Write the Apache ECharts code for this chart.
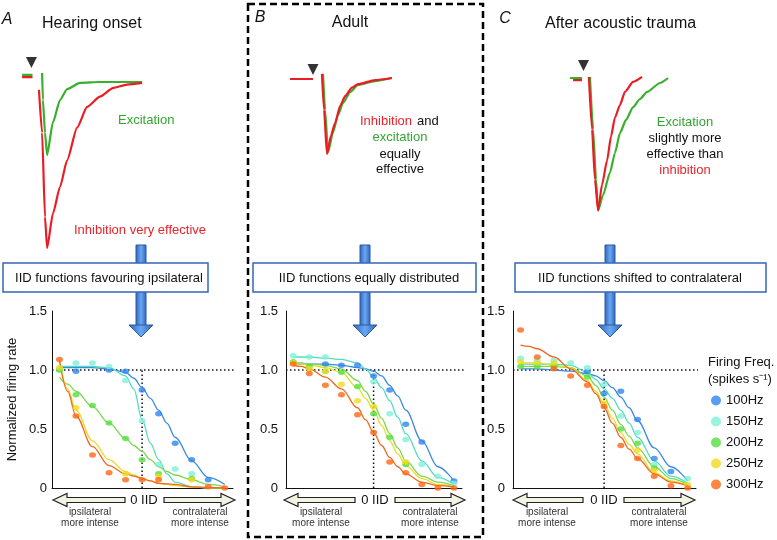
<!DOCTYPE html>
<html><head><meta charset="utf-8">
<script src="https://cdn.jsdelivr.net/npm/echarts@6/dist/echarts.min.js"></script>
<style>html,body{margin:0;padding:0;background:#fff}#c{width:777px;height:540px}</style>
</head><body><div id="c"></div>
<script>
// ---------- data ----------
const freqNames = ['100Hz','150Hz','200Hz','250Hz','300Hz'];
const iidSteps = [-5,-4,-3,-2,-1,0,1,2,3,4,5];
const fitSteps = [-5,-4.5,-4,-3,-2,-1,-0.5,0,0.5,1,1.5,2,3,4,5];
const yTickLabels = ['0','0.5','1.0','1.5'];

// Panel A (hearing onset) measured points
const dotsA100 = [null,0.99,null,1.00,0.99,0.83,0.63,0.38,0.24,0.07,null];
const dotsA150 = [1.00,1.06,1.06,1.03,0.91,0.57,0.20,0.16,0.12,null,null];
const dotsA200 = [1.00,0.79,0.70,0.55,0.42,0.24,0.12,null,0.08,null,null];
const dotsA250 = [1.02,0.68,null,null,0.12,null,0.10,null,0.07,null,null];
const dotsA300 = [1.09,0.61,0.28,0.13,0.07,0.07,0.07,null,null,0.01,0.00];
// Panel A fitted curves
const fitA100 = [1.02,1.02,1.02,1.02,1.01,0.98,0.93,0.85,0.76,0.66,0.55,0.43,0.23,0.09,0.03];
const fitA150 = [1.03,1.03,1.03,1.03,1.02,0.95,0.84,0.58,0.38,0.24,0.12,0.05,0.01,0.00,0.00];
const fitA200 = [0.94,0.88,0.82,0.69,0.55,0.42,0.36,0.31,0.24,0.18,0.14,0.11,0.07,0.03,0.01];
const fitA250 = [1.08,0.84,0.66,0.40,0.24,0.14,0.11,0.08,0.06,0.04,0.03,0.02,0.01,0.00,0.00];
const fitA300 = [1.08,0.82,0.61,0.35,0.19,0.12,0.10,0.08,0.06,0.04,0.035,0.03,0.01,0.005,0.00];

// Panel B (adult)
const dotsB100 = [null,null,1.05,1.04,1.04,0.95,0.83,0.54,0.39,null,0.06];
const dotsB150 = [1.12,1.11,1.11,null,null,0.90,0.63,0.41,0.20,0.10,0.04];
const dotsB200 = [1.07,1.03,0.99,0.98,0.86,0.63,0.43,0.20,null,null,null];
const dotsB250 = [1.06,1.01,0.99,0.88,0.74,0.69,null,0.22,null,null,null];
const dotsB300 = [1.05,0.97,0.87,0.79,0.62,0.47,0.22,0.13,0.03,0.00,0.00];
const fitB100 = [1.05,1.05,1.05,1.05,1.04,1.02,1.01,0.99,0.95,0.87,0.78,0.66,0.40,0.18,0.06];
const fitB150 = [1.11,1.11,1.11,1.10,1.09,1.06,1.01,0.94,0.85,0.74,0.60,0.46,0.23,0.09,0.03];
const fitB200 = [1.06,1.06,1.05,1.04,1.01,0.91,0.82,0.71,0.59,0.46,0.34,0.23,0.10,0.05,0.02];
const fitB250 = [1.05,1.05,1.04,1.02,0.98,0.85,0.76,0.66,0.53,0.40,0.29,0.19,0.08,0.03,0.01];
const fitB300 = [1.04,1.03,1.01,0.94,0.84,0.68,0.58,0.47,0.36,0.26,0.18,0.12,0.05,0.02,0.01];

// Panel C (after acoustic trauma)
const dotsC100 = [null,null,null,null,0.99,0.80,0.82,0.58,0.25,0.14,null];
const dotsC150 = [1.10,1.08,1.08,1.06,1.02,0.88,0.61,0.47,0.20,null,0.08];
const dotsC200 = [1.03,1.03,1.03,null,0.94,null,0.50,0.38,0.17,null,null];
const dotsC250 = [1.07,1.06,1.06,null,null,0.72,null,0.32,0.15,null,0.03];
const dotsC300 = [1.34,1.11,1.01,0.95,0.87,0.69,0.36,0.25,0.10,0.02,0.00];
const fitC100 = [1.01,1.01,1.01,1.00,0.99,0.97,0.95,0.91,0.85,0.77,0.68,0.57,0.34,0.18,0.06];
const fitC150 = [1.05,1.05,1.05,1.05,1.04,0.98,0.92,0.84,0.76,0.66,0.55,0.43,0.23,0.10,0.04];
const fitC200 = [1.03,1.03,1.03,1.03,1.02,0.95,0.87,0.77,0.66,0.54,0.44,0.34,0.18,0.08,0.03];
const fitC250 = [1.06,1.06,1.06,1.04,1.02,0.91,0.82,0.71,0.59,0.47,0.37,0.29,0.13,0.06,0.02];
const fitC300 = [1.21,1.20,1.18,1.11,1.01,0.90,0.80,0.68,0.55,0.43,0.33,0.25,0.12,0.05,0.02];

// Synaptic current traces (time in ms, normalized amplitude); null = stimulus artefact gap
const traceA_excT = [1,6,8,10.6,11,12,13,15.8,19.2,22.6,28.8,38.4,58.6];
const traceA_excV = [0.006,0.006,null,0.017,-0.14,-0.33,-0.46,-0.27,-0.14,-0.076,-0.04,-0.035,-0.035];
const traceA_inhT = [1,6,8,9.1,10.6,12,13,15.8,19.2,22.6,27.4,32.2,38.4,44.6,51.4,58.6];
const traceA_inhV = [-0.006,-0.006,null,-0.08,-0.33,-0.82,-1.0,-0.80,-0.645,-0.49,-0.30,-0.18,-0.12,-0.07,-0.05,-0.04];
const traceB_excT = [1,12,14,16.8,17.8,19.2,21.6,24,26.4,29.8,33.6,41.8,49.9];
const traceB_excV = [0,0,null,0.03,-0.18,-0.425,-0.31,-0.21,-0.14,-0.076,-0.035,-0.012,0.006];
const traceB_inhT = [1,12,14,16.3,17.3,18.7,20.6,22.6,25,27.4,30.7,33.6,41.8,49.9];
const traceB_inhV = [0,0,null,0.03,-0.18,-0.436,-0.33,-0.256,-0.157,-0.1,-0.05,-0.03,-0.006,0.006];
const traceC_excT = [1.9,7.7,9.5,11.5,13,14.4,15.4,17.8,21.1,23.5,25.9,28.8,32.2,35.5,38.9,45.1,49];
const traceC_excV = [0,0,null,0.006,-0.30,-0.59,-0.77,-0.68,-0.55,-0.436,-0.32,-0.244,-0.169,-0.122,-0.081,-0.029,0];
const traceC_inhT = [3.4,7.7,9.5,11.0,12.5,13.9,15.4,17.3,19.7,21.6,23.5,25.9,28.3,32.2,36.5];
const traceC_inhV = [-0.012,-0.012,null,0.006,-0.30,-0.59,-0.77,-0.62,-0.48,-0.34,-0.23,-0.157,-0.08,-0.023,0.006];
const stimTimes = [5.5,12,8.4];
const stimLevels = [0.078,0.055,0.073];

// ---------- styling ----------
const FONT = "'Liberation Sans', Arial, Helvetica, sans-serif";
const dotColors = ['#2f86ee','#80f0d6','#52e03c','#f2da1c','#ff6616'];
const fitColors = ['#3a8ae0','#52dcc0','#7ad850','#eadb22','#ee6820'];
const RED = '#ec1c24', GREEN = '#38b02c', TXTGREEN = '#34a532', TXTRED = '#e8232a';

const panels = [
  {dots:[dotsA100,dotsA150,dotsA200,dotsA250,dotsA300], fits:[fitA100,fitA150,fitA200,fitA250,fitA300],
   grid:{left:52, top:311, width:181, height:177}, labelMargin:5, dotEnd:5.74,
   trace:{exc:[traceA_excT,traceA_excV], inh:[traceA_inhT,traceA_inhV]}, tgrid:{left:20, top:50.2}},
  {dots:[dotsB100,dotsB150,dotsB200,dotsB250,dotsB300], fits:[fitB100,fitB150,fitB200,fitB250,fitB300],
   grid:{left:286, top:311, width:176, height:177}, labelMargin:8, dotEnd:6.62,
   trace:{exc:[traceB_excT,traceB_excV], inh:[traceB_inhT,traceB_inhV]}, tgrid:{left:288, top:53.2}},
  {dots:[dotsC100,dotsC150,dotsC200,dotsC250,dotsC300], fits:[fitC100,fitC150,fitC200,fitC250,fitC300],
   grid:{left:513, top:311, width:183, height:177}, labelMargin:8, dotEnd:5.75,
   trace:{exc:[traceC_excT,traceC_excV], inh:[traceC_inhT,traceC_inhV]}, tgrid:{left:566, top:52.2}}
];

const grid = [], xAxis = [], yAxis = [], series = [];
const XMIN = -5.45, XMAX = 5.5;
panels.forEach((p, pi) => {
  grid.push(Object.assign({containLabel:false}, p.grid));
  xAxis.push({gridIndex:pi, type:'value', min:XMIN, max:XMAX,
    axisLine:{show:true, onZero:false, lineStyle:{color:'#111', width:1}},
    axisTick:{show:false}, axisLabel:{show:false}, splitLine:{show:false}});
  yAxis.push({gridIndex:pi, type:'value', min:0, max:1.5, interval:0.5,
    name: pi===0 ? 'Normalized firing rate' : '', nameLocation:'middle', nameGap:33,
    nameTextStyle:{fontSize:13, color:'#111', fontFamily:FONT},
    axisLine:{show:true, onZero:false, lineStyle:{color:'#111', width:1}}, axisTick:{show:false},
    splitLine:{show:false},
    axisLabel:{fontSize:13, color:'#111', margin:p.labelMargin, fontFamily:FONT,
      formatter: v => yTickLabels[Math.round(v/0.5)]}});
  const dotted = {color:'#111', width:1.5, type:[1.5,2.5]};
  series.push({type:'line', xAxisIndex:pi, yAxisIndex:pi, data:[[XMIN,1],[p.dotEnd,1]],
    symbol:'none', clip:false, lineStyle:dotted, z:1, silent:true});
  series.push({type:'line', xAxisIndex:pi, yAxisIndex:pi, data:[[0,0],[0,1]],
    symbol:'none', lineStyle:dotted, z:1, silent:true});
  p.fits.forEach((f, i) => {
    series.push({type:'line', name:freqNames[i]+' fit', xAxisIndex:pi, yAxisIndex:pi,
      data: fitSteps.map((x,j)=>[x,f[j]]), smooth:0.35, smoothMonotone:'x', showSymbol:false,
      symbol:'none', lineStyle:{color:fitColors[i], width:1.3}, z:3+i, silent:true});
  });
  p.dots.forEach((d, i) => {
    series.push({type:'scatter', name:freqNames[i], xAxisIndex:pi, yAxisIndex:pi,
      data: iidSteps.map((x,j)=> d[j]==null ? null : [x,d[j]]).filter(Boolean),
      symbol:'circle', symbolSize:[7,5.5], itemStyle:{color:dotColors[i]}, z:10+i, clip:false});
  });
});
// trace grids
panels.forEach((p, pi) => {
  const gi = 3 + pi;
  grid.push({left:p.tgrid.left, top:p.tgrid.top, width:125, height:215});
  xAxis.push({gridIndex:gi, type:'value', min:0, max:60, show:false});
  yAxis.push({gridIndex:gi, type:'value', min:-1.1, max:0.15, show:false});
  const mk = (tv) => tv[0].map((t,k)=> [t, tv[1][k]==null ? '-' : tv[1][k]]);
  series.push({type:'line', xAxisIndex:gi, yAxisIndex:gi, data: mk(p.trace.exc), symbol:'none',
    smooth:0.2, smoothMonotone:'x', connectNulls:false, lineStyle:{color:GREEN, width:2.2}, z:2, silent:true});
  series.push({type:'line', xAxisIndex:gi, yAxisIndex:gi, data: mk(p.trace.inh), symbol:'none',
    smooth:0.2, smoothMonotone:'x', connectNulls:false, lineStyle:{color:RED, width:2.2}, z:3, silent:true});
  series.push({type:'scatter', xAxisIndex:gi, yAxisIndex:gi, data:[[stimTimes[pi], stimLevels[pi]]],
    symbol:'triangle', symbolRotate:180, symbolSize:[11,11], itemStyle:{color:'#000'}, z:4, clip:false, silent:true});
});

// ---------- annotations ----------
const g = [];
const txt = (s, x, y, o={}) => g.push({type:'text', x, y, z: o.z||20, style:{text:s, fill:o.color||'#111',
  font:(o.italic?'italic ':'') + (o.size||13) + 'px ' + FONT, align:o.align||'left', verticalAlign:'middle'}});
txt('A', 7, 20, {size:16, italic:true, align:'center'});
txt('B', 260, 18, {size:16, italic:true, align:'center'});
txt('C', 505, 19, {size:16, italic:true, align:'center'});
txt('Hearing onset', 42, 24, {size:16});
txt('Adult', 350, 23, {size:16, align:'center'});
txt('After acoustic trauma', 545, 24, {size:16});
txt('Excitation', 118, 120, {color:TXTGREEN});
txt('Inhibition very effective', 74, 230, {color:TXTRED});
txt('Inhibition', 360, 121, {color:TXTRED});
txt('and', 417, 121);
txt('excitation', 400, 137, {color:TXTGREEN, align:'center'});
txt('equally', 400, 154, {align:'center'});
txt('effective', 400, 169, {align:'center'});
txt('Excitation', 685, 122, {color:TXTGREEN, align:'center'});
txt('slightly more', 685, 138, {align:'center'});
txt('effective than', 685, 154, {align:'center'});
txt('inhibition', 685, 170, {color:TXTRED, align:'center'});

// blue arrows
const grad = () => new echarts.graphic.LinearGradient(0,0,1,0,[
  {offset:0,color:'#2c62b8'},{offset:0.5,color:'#6aa8f0'},{offset:1,color:'#2c62b8'}]);
[141, 365, 610].forEach(cx => {
  g.push({type:'rect', z:5, shape:{x:cx-5, y:245, width:10, height:81}, style:{fill:grad(), stroke:'#2a58a6', lineWidth:1}});
  g.push({type:'polygon', z:5, shape:{points:[[cx-12,325],[cx+12,325],[cx,337]]}, style:{fill:grad(), stroke:'#2a58a6', lineWidth:1}});
});
// boxes
[[3,208,'IID functions favouring ipsilateral',109],[253,476,'IID functions equally distributed',369],[515,766,'IID functions shifted to contralateral',640]]
.forEach(([x0,x1,s,cx]) => {
  g.push({type:'rect', z:10, shape:{x:x0, y:263, width:x1-x0, height:29}, style:{fill:'#fff', stroke:'#3566b6', lineWidth:1.5}});
  txt(s, cx, 278, {align:'center', z:11});
});
// dashed frame around B
g.push({type:'rect', z:1, shape:{x:248, y:4, width:235, height:533}, style:{fill:'none', stroke:'#000', lineWidth:2.5, lineDash:[7,4]}});
// IID direction arrows
const leftArrow = (tip, end) => [[tip,500],[tip+14,493.5],[tip+14,497.5],[end,497.5],[end,502.5],[tip+14,502.5],[tip+14,506.5]];
const rightArrow = (start, tip) => [[tip,500],[tip-14,493.5],[tip-14,497.5],[start,497.5],[start,502.5],[tip-14,502.5],[tip-14,506.5]];
[[53,125,164,235,144,90,200],[284,355,395,465,375,321,430],[513,583,624,695,604,547,659]]
.forEach(([lt,le,rs,rt,c0,ci,cc]) => {
  g.push({type:'polygon', z:6, shape:{points:leftArrow(lt,le)}, style:{fill:'#f3f3e4', stroke:'#222', lineWidth:1.2}});
  g.push({type:'polygon', z:6, shape:{points:rightArrow(rs,rt)}, style:{fill:'#f3f3e4', stroke:'#222', lineWidth:1.2}});
  txt('0 IID', c0, 500, {align:'center'});
  txt('ipsilateral', ci, 512, {size:10, align:'center', color:'#333'});
  txt('more intense', ci, 523, {size:10, align:'center', color:'#333'});
  txt('contralateral', cc, 512, {size:10, align:'center', color:'#333'});
  txt('more intense', cc, 523, {size:10, align:'center', color:'#333'});
});
txt('Firing Freq.', 708, 362);
txt('(spikes s\u207B\u00B9)', 708, 379);

const option = {
  animation:false,
  backgroundColor:'#fff',
  textStyle:{fontFamily:FONT},
  grid, xAxis, yAxis, series,
  legend:{orient:'vertical', left:711, top:394, padding:0, itemWidth:10, itemHeight:10, itemGap:8,
    icon:'circle', selectedMode:false, textStyle:{fontSize:13, color:'#111', fontFamily:FONT},
    data: freqNames.map((n,i)=>({name:n, itemStyle:{color:dotColors[i]}}))},
  graphic: g
};
const chart = echarts.init(document.getElementById('c'), null, {renderer:'canvas'});
chart.setOption(option);
</script>
</body></html>
